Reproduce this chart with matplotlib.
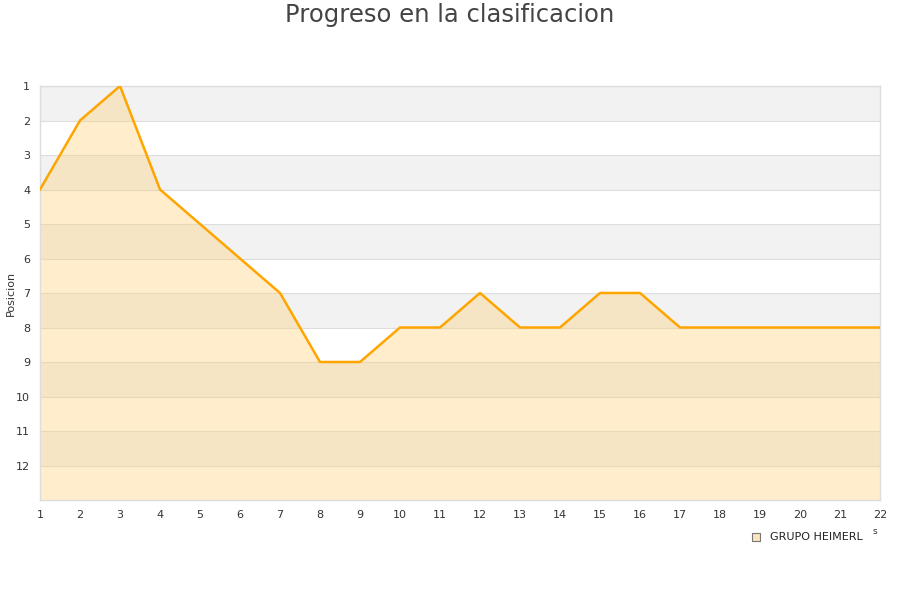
import matplotlib
matplotlib.use("Agg")
import matplotlib.pyplot as plt
import numpy as np

rounds = list(range(1, 23))
positions = [4, 2, 1, 4, 5, 6, 7, 9, 9, 8, 8, 7, 8, 8, 7, 7, 8, 8, 8, 8, 8, 8]
team = "GRUPO HEIMERL"
title = "Progreso en la clasificacion"
y_ticks = list(range(1, 13))

fig = plt.figure(figsize=(9, 6), dpi=100)
ax = fig.add_axes([40/900, 1-500/600, 840/900, 414/600])

ax.set_xlim(1, 22)
ax.set_ylim(13, 1)

# alternating bands
for k in range(1, 13, 2):
    ax.axhspan(k, k+1, color="#f2f2f2", zorder=0, lw=0)
for k in range(1, 14):
    ax.axhline(k, color="#dddddd", lw=0.8, zorder=1)

ax.fill_between(rounds, positions, 13, color="#ffd27a", alpha=0.38, lw=0, zorder=2)
ax.plot(rounds, positions, color="#ffa500", lw=1.8, zorder=3)

ax.set_xticks(rounds)
ax.set_yticks(y_ticks)
ax.tick_params(axis="both", length=0, labelsize=8, colors="#333333", pad=7)
for s in ax.spines.values():
    s.set_color("#dddddd")
    s.set_linewidth(1)

fig.text(11/900, 1-293/600, "Posicion", rotation=90, fontsize=8, color="#333333",
         ha="center", va="center")

fig.text(0.5, 1-15/600, title, ha="center", va="center", fontsize=17.5, color="#444444")

# legend
fig.patches.append(plt.Rectangle((752/900, 1-541/600), 8/900, 8/600, transform=fig.transFigure,
                                 facecolor="#fbe3be", edgecolor="#777777", lw=0.8))
fig.text(770/900, 1-537/600, team, fontsize=8, color="#222222", va="center", ha="left")
fig.text(873/900, 1-532/600, "s", fontsize=6.5, color="#333333", va="center", ha="left")

fig.savefig("out.png", dpi=100)
